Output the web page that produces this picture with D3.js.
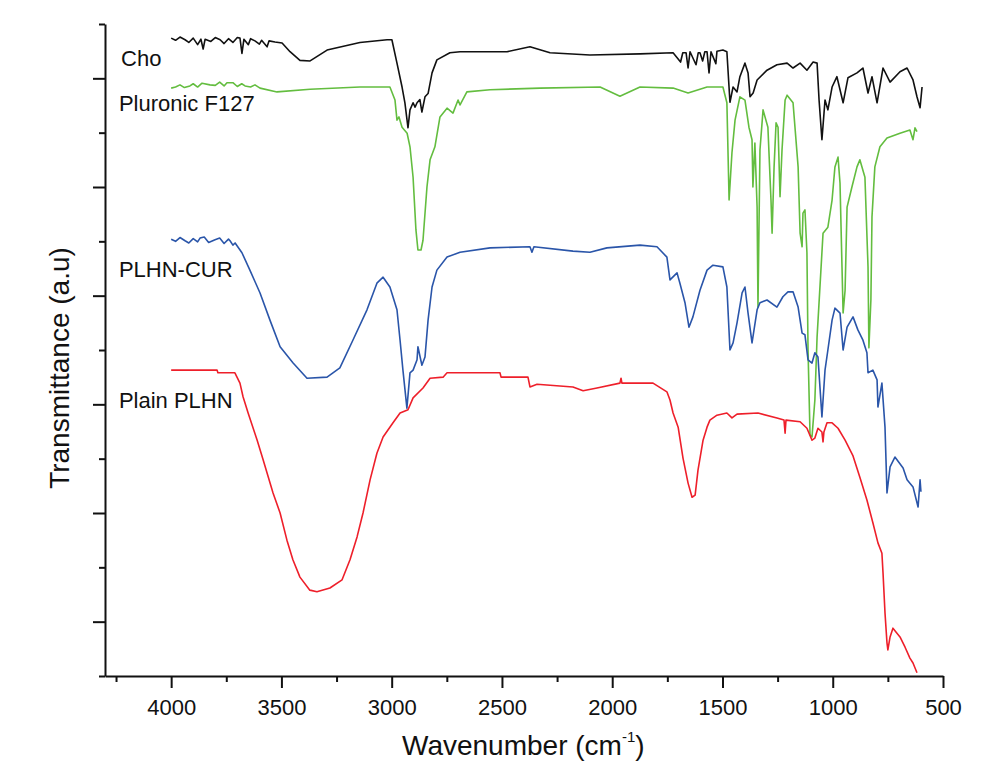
<!DOCTYPE html>
<html>
<head>
<meta charset="utf-8">
<script src="https://cdn.jsdelivr.net/npm/d3@7"></script>
<style>
  body { margin: 0; background: #fff; }
  svg text { font-family: Arial, "Liberation Sans", sans-serif; fill: #111; }
</style>
</head>
<body>
<div id="visArea"></div>
<script>
// Display Constants
var viewWidth = 1006
var viewHeight = 763
var plotLeft = 105
var plotRight = 943
var plotTop = 24
var plotBottom = 676

// wavenumber (cm-1), transmittance (a.u, stacked offsets)
var choData = [
  [4000, 11.74], [3980, 11.70], [3960, 11.76], [3937, 11.71], [3920, 11.66], [3900, 11.74],
  [3880, 11.62], [3865, 11.72], [3855, 11.54], [3846, 11.72], [3820, 11.68], [3800, 11.75],
  [3778, 11.71], [3760, 11.64], [3740, 11.73], [3720, 11.66], [3700, 11.75], [3688, 11.74],
  [3679, 11.46], [3670, 11.72], [3650, 11.62], [3640, 11.73], [3620, 11.69], [3600, 11.63],
  [3590, 11.70], [3565, 11.58], [3556, 11.69],
  [3529, 11.67], [3497, 11.65], [3461, 11.49], [3416, 11.33], [3370, 11.32], [3293, 11.52],
  [3144, 11.66], [3021, 11.71], [2999, 11.71], [2976, 11.28], [2953, 10.84], [2940, 10.55],
  [2926, 10.09], [2917, 10.42], [2903, 10.55], [2894, 10.47], [2885, 10.55], [2872, 10.61],
  [2863, 10.38], [2849, 10.66], [2835, 10.72], [2817, 11.10], [2795, 11.34], [2736, 11.47],
  [2690, 11.49], [2477, 11.49], [2373, 11.58], [2282, 11.47], [2101, 11.43], [1874, 11.45],
  [1724, 11.47], [1690, 11.30], [1680, 11.47], [1665, 11.47], [1656, 11.19], [1647, 11.49],
  [1620, 11.25], [1610, 11.47], [1602, 11.47], [1590, 11.32], [1580, 11.49], [1570, 11.49],
  [1561, 11.10], [1552, 11.49], [1530, 11.27], [1525, 11.50], [1498, 11.52], [1480, 11.49],
  [1466, 10.56], [1452, 10.84],
  [1434, 10.75], [1421, 11.03], [1398, 11.28], [1384, 11.10], [1375, 10.66], [1361, 10.73],
  [1343, 10.97], [1298, 11.15], [1253, 11.25], [1207, 11.28], [1180, 11.19], [1148, 11.28],
  [1117, 11.15], [1089, 11.30], [1071, 11.28], [1062, 10.60], [1049, 9.87], [1035, 10.60],
  [1022, 10.42], [1003, 10.84], [981, 11.03], [953, 10.55], [931, 11.01], [890, 11.10],
  [863, 11.19], [840, 10.73], [822, 11.03], [799, 10.55], [772, 11.19], [740, 10.93],
  [695, 11.12], [663, 11.19], [636, 10.97], [618, 10.66], [604, 10.46], [595, 10.84]
]

var pluronicData = [
  [4000, 10.82], [3980, 10.84], [3960, 10.88], [3940, 10.83], [3915, 10.86], [3900, 10.90],
  [3880, 10.84], [3860, 10.91], [3824, 10.88], [3800, 10.87], [3780, 10.93], [3760, 10.86],
  [3747, 10.92], [3720, 10.92], [3700, 10.85], [3680, 10.90], [3665, 10.86], [3640, 10.84],
  [3620, 10.88], [3597, 10.82],
  [3520, 10.75], [3370, 10.80], [3144, 10.84], [3008, 10.84], [2985, 10.60], [2976, 10.23],
  [2967, 10.29], [2953, 10.10], [2930, 9.99], [2917, 9.74], [2903, 9.18], [2890, 8.21],
  [2881, 7.84], [2867, 7.84], [2858, 8.02], [2840, 9.00], [2826, 9.50], [2804, 9.74],
  [2781, 10.29], [2749, 10.45], [2722, 10.36], [2699, 10.60], [2690, 10.51], [2659, 10.75],
  [2554, 10.79], [2327, 10.82], [2055, 10.84], [1965, 10.67], [1874, 10.84], [1724, 10.82],
  [1656, 10.73], [1570, 10.84], [1498, 10.84], [1480, 10.55], [1470, 8.76], [1457, 9.63],
  [1443, 10.23], [1421, 10.66], [1398, 10.60], [1380, 10.10], [1366, 9.87], [1362, 9.00],
  [1353, 9.81], [1343, 8.63], [1339, 6.79], [1330, 9.68], [1316, 10.42], [1294, 10.10],
  [1280, 8.76], [1275, 8.15], [1266, 9.37], [1257, 10.18], [1248, 10.10], [1239, 8.82],
  [1230, 9.68], [1216, 10.60], [1207, 10.69], [1180, 10.55], [1157, 9.37], [1148, 8.15],
  [1139, 7.90], [1135, 8.52], [1126, 8.58], [1117, 7.79], [1112, 6.00], [1103, 4.44],
  [1094, 4.40], [1081, 5.08], [1071, 6.24], [1044, 8.15], [1022, 8.26], [1003, 8.76],
  [990, 9.37], [976, 9.55], [967, 9.07], [958, 7.53], [953, 6.68], [944, 7.10], [935, 8.63],
  [913, 9.00], [890, 9.37], [877, 9.50], [854, 9.18], [840, 7.53], [836, 6.04], [827, 6.92],
  [822, 8.45], [809, 9.37], [786, 9.74], [754, 9.90], [695, 9.99], [650, 10.05], [636, 9.87],
  [627, 10.09], [618, 10.02]
]

var plhnCurData = [
  [4000, 8.04], [3980, 8.00], [3960, 8.07], [3937, 8.01], [3920, 7.97], [3900, 8.05],
  [3880, 7.99], [3869, 8.06], [3850, 8.08], [3830, 7.98], [3801, 8.03], [3780, 8.06],
  [3760, 7.96], [3740, 8.04], [3733, 8.01], [3720, 7.93], [3710, 7.97],
  [3679, 7.79], [3643, 7.47], [3597, 7.05], [3552, 6.55], [3506, 6.06], [3447, 5.76],
  [3384, 5.48], [3293, 5.50], [3235, 5.67], [3176, 6.18], [3112, 6.74], [3067, 7.23],
  [3039, 7.34], [3008, 7.16], [2976, 6.74], [2962, 6.18], [2949, 5.63], [2931, 4.93],
  [2917, 5.58], [2903, 5.63], [2885, 5.82], [2881, 6.06], [2863, 5.72], [2849, 5.87],
  [2835, 6.55], [2817, 7.16], [2795, 7.47], [2749, 7.71], [2690, 7.80], [2554, 7.88],
  [2373, 7.90], [2364, 7.80], [2355, 7.90], [2178, 7.82], [2101, 7.80], [2024, 7.88],
  [1874, 7.93], [1797, 7.90], [1752, 7.71], [1738, 7.29], [1706, 7.42], [1693, 7.23],
  [1670, 6.87], [1652, 6.42], [1634, 6.61], [1602, 7.10], [1570, 7.47], [1543, 7.56],
  [1498, 7.53], [1480, 7.16], [1466, 6.00], [1452, 6.13], [1434, 6.50], [1411, 7.05],
  [1398, 7.16], [1384, 6.68], [1366, 6.13], [1343, 6.74], [1330, 6.87], [1298, 6.92],
  [1253, 6.79], [1226, 6.98], [1203, 7.07], [1180, 7.07], [1157, 6.79], [1139, 6.31],
  [1126, 6.28], [1112, 5.82], [1094, 5.76], [1081, 5.95], [1067, 5.87], [1049, 4.77],
  [1035, 5.63], [1022, 6.00], [1003, 6.55], [990, 6.77], [967, 6.68], [953, 6.00],
  [935, 6.42], [908, 6.61], [886, 6.37], [863, 6.18], [845, 5.95], [840, 5.58], [818, 5.63],
  [799, 5.45], [795, 4.95], [777, 5.39], [763, 4.58], [754, 3.37], [740, 3.85], [718, 4.03],
  [681, 3.83], [663, 3.61], [636, 3.48], [613, 3.11], [604, 3.61], [600, 3.39]
]

var plainPlhnData = [
  [4000, 5.63], [3792, 5.63], [3788, 5.58], [3711, 5.58], [3688, 5.39], [3674, 5.14],
  [3651, 4.84], [3610, 4.34], [3583, 3.98], [3538, 3.37], [3506, 3.00], [3475, 2.50],
  [3448, 2.14], [3416, 1.82], [3371, 1.58], [3339, 1.55], [3280, 1.62], [3225, 1.77],
  [3189, 2.14], [3157, 2.56], [3130, 3.00], [3098, 3.61], [3067, 4.10], [3039, 4.40],
  [2994, 4.66], [2962, 4.84], [2926, 4.90], [2903, 5.12], [2858, 5.30], [2826, 5.48],
  [2767, 5.50], [2749, 5.58], [2509, 5.58], [2504, 5.50], [2382, 5.50], [2373, 5.32],
  [2341, 5.37], [2178, 5.32], [2132, 5.25], [2069, 5.30], [1965, 5.39], [1960, 5.48],
  [1956, 5.39], [1815, 5.39], [1752, 5.23], [1738, 5.08], [1724, 4.84], [1701, 4.58],
  [1679, 4.01], [1656, 3.55], [1638, 3.29], [1624, 3.33], [1611, 3.79], [1588, 4.34],
  [1570, 4.58], [1557, 4.71], [1525, 4.80], [1480, 4.84], [1457, 4.75], [1434, 4.82],
  [1339, 4.84], [1253, 4.75], [1221, 4.71], [1216, 4.47], [1212, 4.71], [1148, 4.68],
  [1117, 4.56], [1094, 4.34], [1081, 4.38], [1067, 4.56], [1049, 4.49], [1044, 4.31],
  [1040, 4.49], [1026, 4.66], [1003, 4.66], [976, 4.56], [944, 4.34], [908, 4.05],
  [877, 3.66], [845, 3.24], [818, 2.82], [795, 2.45], [777, 2.26], [772, 1.90], [763, 1.16],
  [754, 0.61], [750, 0.48], [740, 0.72], [727, 0.88], [695, 0.72], [672, 0.53], [650, 0.33],
  [636, 0.24], [618, 0.06]
]

var seriesNames = ["Cho", "Pluronic F127", "PLHN-CUR", "Plain PLHN"]
var seriesData = [choData, pluronicData, plhnCurData, plainPlhnData]

var xMajorTicks = [4000, 3500, 3000, 2500, 2000, 1500, 1000, 500]
var xMinorTicks = [4250, 3750, 3250, 2750, 2250, 1750, 1250, 750]
var yMajorTicks = [1, 3, 5, 7, 9, 11]
var yMinorTicks = [0, 2, 4, 6, 8, 10, 12]

var seriesColors = ["#111111", "#63bd3f", "#2a55a9", "#ee1f2a"]
// where each name sits, in wavenumber / a.u
var labelAnchors = [[4227, 11.23], [4237, 10.40], [4237, 7.34], [4237, 4.93]]

var xScale = d3.scaleLinear().domain([4300, 500]).range([plotLeft, plotRight])
var yScale = d3.scaleLinear().domain([0, 12]).range([plotBottom, plotTop])

var svg = d3.select('#visArea')
  .append("svg")
  .attr("width", viewWidth)
  .attr("height", viewHeight)

var lineGenerator = d3.line()
  .x((d) => xScale(d[0]))
  .y((d) => yScale(d[1]))

svg.selectAll(".spectrum")
  .data(seriesData)
  .enter()
  .append("path")
  .attr("class", "spectrum")
  .attr("d", lineGenerator)
  .attr("fill", "none")
  .attr("stroke", (d, i) => seriesColors[i])
  .attr("stroke-width", 1.6)
  .attr("stroke-linejoin", "round")

svg.selectAll(".series-label")
  .data(seriesNames)
  .enter()
  .append("text")
  .attr("class", "series-label")
  .attr("x", (d, i) => xScale(labelAnchors[i][0]))
  .attr("y", (d, i) => yScale(labelAnchors[i][1]))
  .style("font-size", "22px")
  .text((d) => d)

function styleAxis(g) {
  g.selectAll("path.domain").attr("stroke", "#111").attr("stroke-width", 2)
  g.selectAll(".tick line").attr("stroke", "#111").attr("stroke-width", 2)
}

var xAxis = d3.axisBottom(xScale)
  .tickValues(xMajorTicks)
  .tickSize(12)
  .tickSizeOuter(0)
  .tickPadding(11)
  .tickFormat(d3.format("d"))
var xMinorAxis = d3.axisBottom(xScale)
  .tickValues(xMinorTicks)
  .tickSize(6)
  .tickSizeOuter(0)
  .tickFormat("")

var yAxis = d3.axisLeft(yScale)
  .tickValues(yMajorTicks)
  .tickSize(12)
  .tickSizeOuter(0)
  .tickFormat("")
var yMinorAxis = d3.axisLeft(yScale)
  .tickValues(yMinorTicks)
  .tickSize(6)
  .tickSizeOuter(0)
  .tickFormat("")

svg.append('g')
  .attr("class", "x axis")
  .attr("transform", "translate(0," + plotBottom + ")")
  .call(xAxis)
  .call(styleAxis)
  .selectAll("text")
  .style("font-size", "22px")
  .attr("fill", "#111")

svg.append('g')
  .attr("class", "x minor")
  .attr("transform", "translate(0," + plotBottom + ")")
  .call(xMinorAxis)
  .call(styleAxis)
  .select("path.domain").remove()

svg.append('g')
  .attr("class", "y axis")
  .attr("transform", "translate(" + plotLeft + ",0)")
  .call(yAxis)
  .call(styleAxis)

svg.append('g')
  .attr("class", "y minor")
  .attr("transform", "translate(" + plotLeft + ",0)")
  .call(yMinorAxis)
  .call(styleAxis)
  .select("path.domain").remove()

// axis titles
var xTitle = svg.append("text")
  .attr("x", 402)
  .attr("y", 755)
  .style("font-size", "28px")
xTitle.append("tspan").text("Wavenumber (cm")
xTitle.append("tspan").attr("dy", -13).style("font-size", "15px").text("-1")
xTitle.append("tspan").attr("dy", 13).text(")")

svg.append("text")
  .attr("transform", "translate(69," + ((plotTop + plotBottom) / 2 + 18) + ") rotate(-90)")
  .attr("text-anchor", "middle")
  .style("font-size", "28px")
  .text("Transmittance (a.u)")
</script>
</body>
</html>
